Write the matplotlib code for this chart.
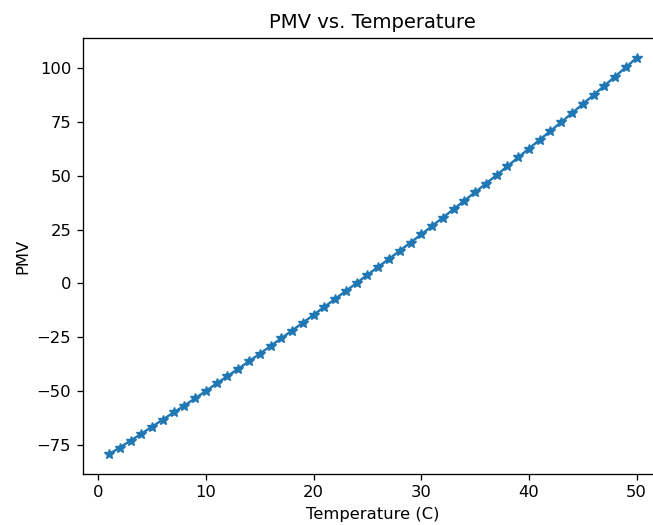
import matplotlib
matplotlib.use("Agg")
import matplotlib.pyplot as plt

temperature = list(range(1, 51))
pmv = [-79.4, -76.3, -73.1, -69.9, -66.6, -63.3, -60.0, -56.8, -53.4, -50.0,
       -46.5, -43.1, -39.7, -36.2, -32.7, -29.1, -25.5, -21.9, -18.3, -14.6,
       -10.9, -7.2, -3.5, 0.2, 4.0, 7.7, 11.4, 15.2, 19.0, 22.8,
       26.7, 30.6, 34.5, 38.5, 42.4, 46.4, 50.4, 54.5, 58.6, 62.7,
       66.8, 70.9, 75.0, 79.2, 83.4, 87.6, 91.9, 96.2, 100.5, 104.9]

s = 1.175
fig = plt.figure(figsize=(6.53, 5.25), dpi=100)
ax = fig.add_axes([0.1266, 0.0971, 0.8887, 0.8305])
ax.plot(temperature, pmv, marker='*', color='#1f77b4', linewidth=1.5 * s, markersize=6 * s)
ax.set_title("PMV vs. Temperature", fontsize=12 * s, pad=6 * s)
ax.set_xlabel("Temperature (C)", fontsize=10 * s, labelpad=4 * s)
ax.set_ylabel("PMV", fontsize=10 * s, labelpad=4 * s)
ax.tick_params(labelsize=10 * s, length=3.5 * s, width=0.8 * s, pad=3.5 * s)
for sp in ax.spines.values():
    sp.set_linewidth(0.8 * s)
ax.set_yticks([-75, -50, -25, 0, 25, 50, 75, 100])
fig.savefig("out.png", dpi=100)
